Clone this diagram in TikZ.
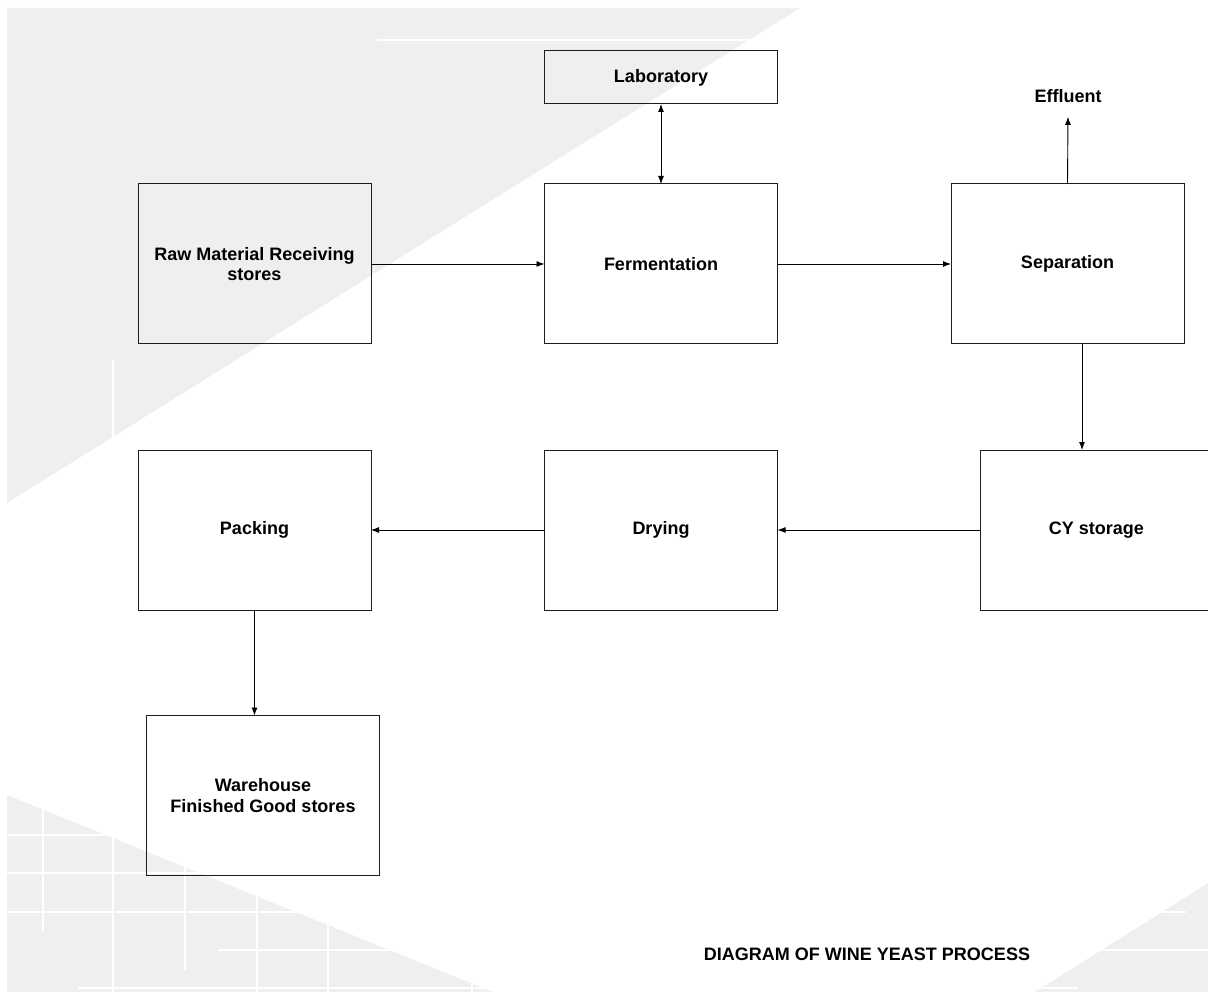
\documentclass[tikz,border=0pt]{standalone}
\usepackage{fontspec}
\setmainfont{Liberation Sans}
\usetikzlibrary{arrows.meta}
\definecolor{bggray}{HTML}{EFEFEF}
\definecolor{edge}{HTML}{1E1E1E}
\begin{document}
\begin{tikzpicture}[x=1pt,y=-1pt,
	txt/.style={font=\bfseries\fontsize{18}{20.5}\selectfont,align=center},
	box/.style={txt,draw=edge,line width=1pt,inner sep=0pt,outer sep=0pt,minimum width=233pt,minimum height=160pt},
	flow/.style={line width=0.9pt,>={Latex[length=8pt,width=6pt]}},
	bgline/.style={white,line width=1.1pt}]
	\useasboundingbox (0,0) rectangle (1208,992);
	% background
	\fill[bggray] (7,8) -- (800,8) -- (7,503) -- cycle;
	\draw[bgline] (377,40) -- (749,40);
	\draw[bgline] (113,360) -- (113,437);
	\begin{scope}
		\clip (7,795) -- (493,992) -- (7,992) -- cycle (1208,883) -- (1035,992) -- (1208,992) -- cycle;
		\fill[bggray] (0,780) rectangle (1208,992);
		\draw[bgline] (43,780) -- (43,931);
		\draw[bgline] (113,780) -- (113,992);
		\draw[bgline] (185,780) -- (185,970);
		\draw[bgline] (257,780) -- (257,992);
		\draw[bgline] (328,780) -- (328,992);
		\draw[bgline] (472,780) -- (472,992);
		\draw[bgline] (7,835) -- (300,835);
		\draw[bgline] (7,873) -- (300,873);
		\draw[bgline] (7,912) -- (1186,912);
		\draw[bgline] (218,950) -- (1208,950);
		\draw[bgline] (78,988) -- (1078,988);
	\end{scope}
	% process blocks
	\node[box,minimum height=53pt] (lab) at (661,77.5) {Laboratory};
	\node[box] (raw) at (254.5,264) {Raw Material Receiving\\stores};
	\node[box] (ferm) at (661,264) {Fermentation};
	\node[box] (sep) at (1067.5,264) {Separation};
	\node[txt,inner ysep=14pt] (eff) at (1068,96) {Effluent};
	\node[box] (cy) at (1096.5,530) {CY storage};
	\node[box] (dry) at (661,530) {Drying};
	\node[box] (pack) at (254.5,530) {Packing};
	\node[box] (wh) at (263,795.5) {Warehouse\\Finished Good stores};
	\node[txt] (title) at (867,954) {DIAGRAM OF WINE YEAST PROCESS};
	% flows
	\draw[flow,<->] (lab) -- (ferm);
	\draw[flow,->] (raw) -- (ferm);
	\draw[flow,->] (ferm) -- (sep);
	\draw[flow,->] (sep.north) -- (eff.south);
	\draw[flow,->] ([xshift=14.5pt]sep.south) -- ([xshift=14.5pt]sep.south |- cy.north);
	\draw[flow,->] (cy) -- (dry);
	\draw[flow,->] (dry) -- (pack);
	\draw[flow,->] (pack.south) -- (pack.south |- wh.north);
\end{tikzpicture}
\end{document}
